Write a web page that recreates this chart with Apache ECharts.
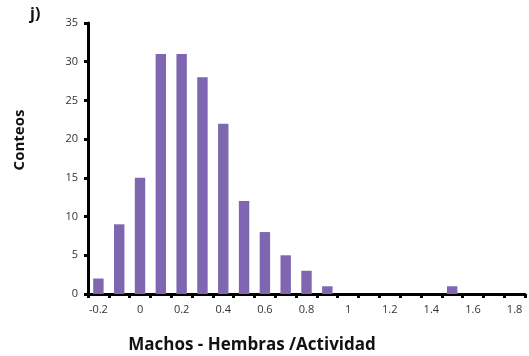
<!DOCTYPE html>
<html><head><meta charset="utf-8">
<script src="https://cdn.jsdelivr.net/npm/echarts@6/dist/echarts.min.js"></script>
<style>html,body{margin:0;padding:0;background:#fff}#c{width:529px;height:356px}</style>
</head><body><div id="c"></div>
<script>
var categories = ['-0.2','-0.1','0','0.1','0.2','0.3','0.4','0.5','0.6','0.7','0.8','0.9','1','1.1','1.2','1.3','1.4','1.5','1.6','1.7','1.8'];
var counts = [2,9,15,31,31,28,22,12,8,5,3,1,0,0,0,0,0,1,0,0,0];
var yTicks = {min:0, max:35, interval:5};
var chart = echarts.init(document.getElementById('c'));
chart.setOption({
  animation:false,
  grid:{left:88, right:4, top:23, bottom:62},
  graphic:[
    {type:'text', left:30, top:6, style:{text:'j)', font:'bold 16px "Open Sans", sans-serif', fill:'#111'}},
    {type:'text', x:252, y:345, style:{text:'Machos - Hembras /Actividad', font:'bold 17px "Open Sans", sans-serif', fill:'#111', align:'center', verticalAlign:'middle'}},
    {type:'text', x:20, y:140, rotation:Math.PI/2, style:{text:'Conteos', font:'bold 15px "Open Sans", sans-serif', fill:'#111', align:'center', verticalAlign:'middle'}}
  ],
  xAxis:{type:'category', data:categories, boundaryGap:true,
    axisLine:{lineStyle:{color:'#000', width:3}},
    axisTick:{show:true, alignWithLabel:false, interval:0, length:4, lineStyle:{color:'#000', width:3}},
    axisLabel:{interval:1, color:'#333', fontSize:11, margin:10, fontFamily:'"Open Sans", sans-serif'}
  },
  yAxis:{type:'value', min:yTicks.min, max:yTicks.max, interval:yTicks.interval,
    splitLine:{show:false},
    axisLine:{show:true, lineStyle:{color:'#000', width:3}},
    axisTick:{show:true, length:4, lineStyle:{color:'#000', width:3}},
    axisLabel:{color:'#333', fontSize:11, margin:10, fontFamily:'"Open Sans", sans-serif'}
  },
  series:[{type:'bar', data:counts, barWidth:'50%', itemStyle:{color:'#7E67B0'}}]
});
</script></body></html>
